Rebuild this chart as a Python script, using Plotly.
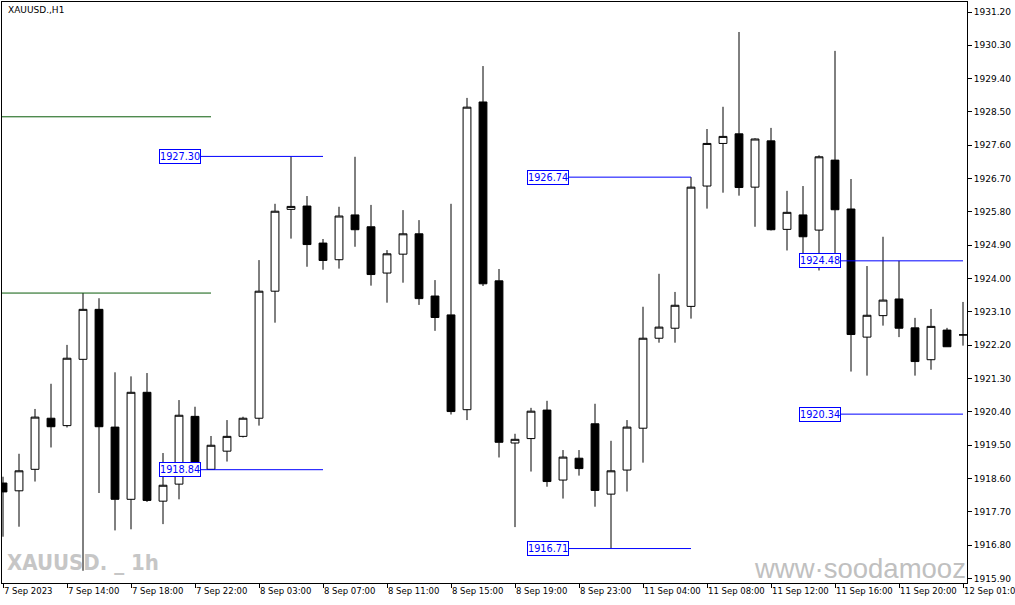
import plotly.graph_objects as go

# ---------------- data ----------------
sessions = [("7 Sep", 10, 23), ("8 Sep", 1, 23), ("11 Sep", 1, 23), ("12 Sep", 1, 1)]
times = [f"{d} {h:02d}:00" for d, h0, h1 in sessions for h in range(h0, h1 + 1)]

opens = [1918.48, 1918.27, 1918.85, 1920.23, 1920.03, 1921.82, 1923.17, 1919.99, 1918.04, 1920.93,
         1917.99, 1918.45, 1920.28, 1918.85, 1919.34, 1919.74, 1920.23, 1923.66, 1925.87, 1925.96,
         1924.96, 1924.51, 1925.72, 1925.40, 1924.15, 1924.66, 1925.21, 1923.53, 1923.02, 1920.46,
         1928.77, 1923.94, 1919.56, 1919.68, 1920.45, 1918.56, 1919.15, 1920.08, 1918.18, 1918.83,
         1919.96, 1922.39, 1922.66, 1923.25, 1926.50, 1927.65, 1927.91, 1926.47, 1927.72, 1925.33,
         1925.72, 1925.31, 1927.20, 1925.88, 1922.42, 1923.00, 1923.45, 1922.67, 1921.81, 1922.61, 1922.48]
highs = [1918.65, 1919.27, 1920.48, 1921.16, 1922.21, 1923.61, 1923.47, 1921.47, 1921.36, 1921.45,
         1919.29, 1920.72, 1920.54, 1919.75, 1920.18, 1920.27, 1924.50, 1926.02, 1927.30, 1926.23,
         1925.07, 1925.94, 1927.29, 1925.99, 1924.77, 1925.85, 1925.58, 1923.96, 1926.02, 1928.88,
         1929.74, 1924.26, 1919.81, 1920.51, 1920.70, 1919.37, 1919.37, 1920.62, 1919.62, 1920.18,
         1923.24, 1924.13, 1923.64, 1926.74, 1928.04, 1928.64, 1930.66, 1927.79, 1928.07, 1926.37,
         1926.50, 1927.33, 1930.15, 1926.69, 1924.34, 1925.13, 1924.48, 1922.94, 1923.18, 1922.67, 1923.37]
lows = [1917.03, 1917.30, 1918.52, 1919.44, 1919.98, 1916.11, 1918.21, 1917.20, 1917.23, 1917.97,
        1917.37, 1918.04, 1918.65, 1918.84, 1919.06, 1919.71, 1920.03, 1922.81, 1925.08, 1924.32,
        1924.24, 1924.27, 1924.86, 1923.81, 1923.35, 1923.89, 1923.29, 1922.59, 1920.33, 1920.18,
        1923.80, 1919.17, 1917.29, 1918.79, 1918.38, 1918.06, 1918.68, 1917.84, 1916.71, 1918.25,
        1919.03, 1922.27, 1922.27, 1922.92, 1925.89, 1926.32, 1926.24, 1925.40, 1925.30, 1924.76,
        1924.62, 1924.22, 1924.32, 1921.49, 1921.38, 1922.73, 1922.42, 1921.38, 1921.54, 1922.16, 1922.19]
closes = [1918.24, 1918.81, 1920.26, 1920.00, 1921.85, 1923.17, 1920.00, 1918.04, 1920.93, 1918.01,
          1918.42, 1920.31, 1918.89, 1919.50, 1919.74, 1920.23, 1923.66, 1925.82, 1925.95, 1924.92,
          1924.49, 1925.69, 1925.32, 1924.11, 1924.67, 1925.21, 1923.46, 1922.95, 1920.41, 1928.63,
          1923.86, 1919.58, 1919.66, 1920.42, 1918.52, 1919.18, 1918.87, 1918.28, 1918.81, 1919.99,
          1922.39, 1922.69, 1923.28, 1926.47, 1927.65, 1927.84, 1926.46, 1927.77, 1925.32, 1925.79,
          1925.13, 1927.29, 1925.86, 1922.49, 1923.01, 1923.42, 1922.66, 1921.76, 1922.71, 1922.16, 1922.48]

tick_times = ["7 Sep 10:00", "7 Sep 14:00", "7 Sep 18:00", "7 Sep 22:00", "8 Sep 03:00", "8 Sep 07:00",
              "8 Sep 11:00", "8 Sep 15:00", "8 Sep 19:00", "8 Sep 23:00", "11 Sep 04:00", "11 Sep 08:00",
              "11 Sep 12:00", "11 Sep 16:00", "11 Sep 20:00", "12 Sep 01:00"]
tick_labels = ["7 Sep 2023", "7 Sep 14:00", "7 Sep 18:00", "7 Sep 22:00", "8 Sep 03:00", "8 Sep 07:00",
               "8 Sep 11:00", "8 Sep 15:00", "8 Sep 19:00", "8 Sep 23:00", "11 Sep 04:00", "11 Sep 08:00",
               "11 Sep 12:00", "11 Sep 16:00", "11 Sep 20:00", "12 Sep 01:00"]

price_ticks = [1915.90, 1916.80, 1917.70, 1918.60, 1919.50, 1920.40, 1921.30, 1922.20, 1923.10,
               1924.00, 1924.90, 1925.80, 1926.70, 1927.60, 1928.50, 1929.40, 1930.30, 1931.20]

# labelled blue levels and the bar where each line ends
level_prices = [1927.30, 1918.84, 1926.74, 1916.71, 1924.48, 1920.34]
level_end_bar = ["8 Sep 07:00", "8 Sep 07:00", "11 Sep 07:00", "11 Sep 07:00", "12 Sep 01:00", "12 Sep 01:00"]

# dark green range lines (start of chart to this bar)
green_prices = [1928.37, 1923.61]
green_end_bar = "7 Sep 23:00"

title_text = "XAUUSD.,H1"
wm_left = "XAUUSD. _ 1h"
wm_right = "www·soodamooz"

# ---------------- figure ----------------
fig = go.Figure()
fig.add_trace(go.Candlestick(
    x=times, open=opens, high=highs, low=lows, close=closes,
    increasing=dict(fillcolor="white", line=dict(color="black", width=1)),
    decreasing=dict(fillcolor="black", line=dict(color="black", width=1)),
    whiskerwidth=0, showlegend=False, hoverinfo="skip",
))

L, R, T, B = 2, 48, 2, 22
W, H = 1015, 605
PW, PH = W - L - R, H - T - B


def px(xp):
    return (xp - L) / PW


def py(yp):
    return (H - B - yp) / PH


idx = {t: i for i, t in enumerate(times)}
LBL_FONT = dict(family="DejaVu Sans Condensed, sans-serif", size=10.8, color="#0000ff")

shapes = []
annotations = []
for p in green_prices:
    shapes.append(dict(type="line", xref="x", yref="y", x0=-0.0625, x1=idx[green_end_bar],
                       y0=p, y1=p, line=dict(color="#0a5c0a", width=1)))
for p, e in zip(level_prices, level_end_bar):
    ie = idx[e]
    shapes.append(dict(type="line", xref="x", yref="y", x0=ie - 8, x1=ie, y0=p, y1=p,
                       line=dict(color="#0000ff", width=1)))
    annotations.append(dict(xref="x", yref="y", x=ie - 7.625, y=p, text=f"{p:.2f}",
                            showarrow=False, xanchor="right", yanchor="middle",
                            font=LBL_FONT, bgcolor="white", bordercolor="#0000ff",
                            borderwidth=1, borderpad=0))

annotations.append(dict(xref="paper", yref="paper", x=px(6), y=py(3), text=title_text,
                        showarrow=False, xanchor="left", yanchor="top",
                        font=dict(family="DejaVu Sans", size=9, color="black")))
annotations.append(dict(xref="paper", yref="paper", x=px(5), y=py(562), text=f"<b>{wm_left}</b>",
                        showarrow=False, xanchor="left", yanchor="middle",
                        font=dict(family="DejaVu Sans Condensed, sans-serif",
                                  size=22, color="#c6c6c6")))
annotations.append(dict(xref="paper", yref="paper", x=px(752), y=py(568), text=wm_right,
                        showarrow=False, xanchor="left", yanchor="middle",
                        font=dict(family="Liberation Sans, Arial, sans-serif", size=27.5, color="#c0c0c0")))

fig.update_layout(
    width=W, height=H,
    margin=dict(l=L, r=R, t=T, b=B, pad=0, autoexpand=False),
    paper_bgcolor="white", plot_bgcolor="white",
    shapes=shapes, annotations=annotations,
    showlegend=False,
    xaxis=dict(
        type="category", range=[-0.0625, 60.25], rangeslider=dict(visible=False),
        automargin=False, showgrid=False, zeroline=False,
        showline=True, linecolor="black", linewidth=1, mirror=True,
        ticks="outside", ticklen=4, tickcolor="black", tickwidth=1,
        tickmode="array", tickvals=tick_times, ticktext=tick_labels,
        ticklabelposition="outside right", tickangle=0,
        tickfont=dict(family="DejaVu Sans", size=8.5, color="black"),
    ),
    yaxis=dict(
        side="right", range=[1915.78, 1931.47],
        automargin=False, showgrid=False, zeroline=False,
        showline=True, linecolor="black", linewidth=1, mirror=True,
        ticks="outside", ticklen=4, tickcolor="black", tickwidth=1,
        tickmode="array", tickvals=price_ticks,
        ticktext=[f"{v:.2f}" for v in price_ticks],
        tickfont=dict(family="DejaVu Sans", size=9, color="black"),
    ),
)

fig.write_html("out.html", config={"displayModeBar": False},
               post_script="document.body.style.margin='0';")
